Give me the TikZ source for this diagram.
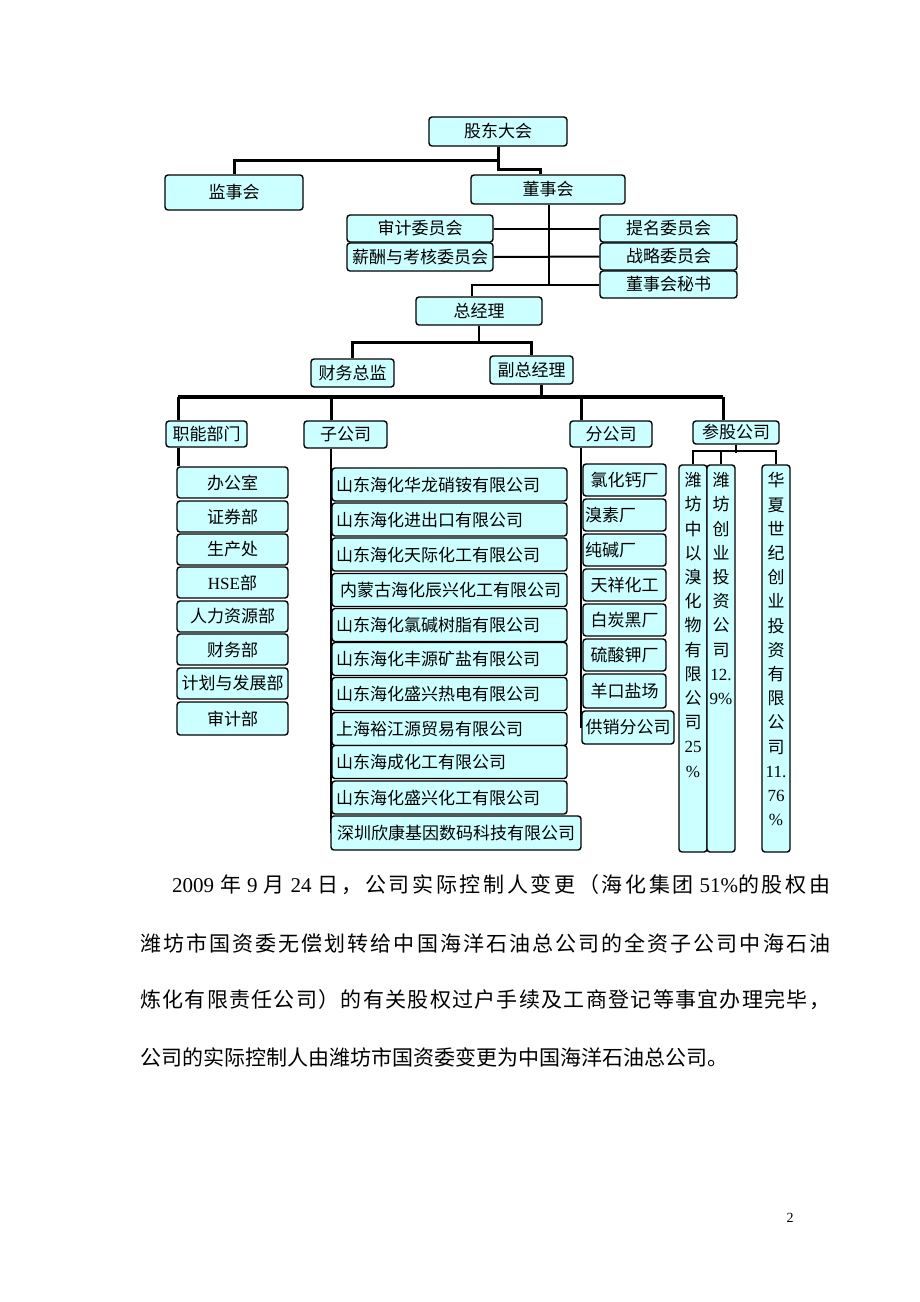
\documentclass[tikz,border=0pt]{standalone}
\usepackage{fontspec}
\setmainfont{Liberation Serif}
\newfontfamily\cjk{Noto Sans CJK SC}
\usetikzlibrary{backgrounds}
\newXeTeXintercharclass\cjkcls
\count255="3000
\loop\ifnum\count255<"3040 \XeTeXcharclass\count255=\cjkcls \advance\count255 by 1 \repeat
\count255="4E00
\loop\ifnum\count255<"A000 \XeTeXcharclass\count255=\cjkcls \advance\count255 by 1 \repeat
\count255="FF00
\loop\ifnum\count255<"FF20 \XeTeXcharclass\count255=\cjkcls \advance\count255 by 1 \repeat
\XeTeXinterchartoks\cjkcls\cjkcls={\hskip0pt plus 1pt\relax}
\newcommand\myparafont{\cjk\fontsize{21}{24}\selectfont\XeTeXinterchartokenstate=1\relax}
\definecolor{boxc}{RGB}{204,255,255}
\begin{document}
\begin{tikzpicture}[x=1pt,y=-1pt,
  bx/.style={draw=black, line width=1.4pt, rounded corners=3pt, fill=boxc, inner sep=0pt,
    font=\cjk\fontsize{17}{20}\selectfont, text=black},
  sub/.style={bx, text width=227pt, align=left, inner xsep=4pt, minimum height=33pt},
  vt/.style={anchor=north, inner sep=0pt, align=center, font=\cjk\fontsize{17}{24.2}\selectfont},
  para/.style={anchor=west, inner sep=0pt, font=\myparafont},
  ln/.style={line width=3pt},
  ml/.style={line width=2.5pt},
  tl/.style={line width=2pt},
  bus/.style={line width=4pt}]
\useasboundingbox (0,0) rectangle (920,1302);

% top levels
\node[bx, minimum width=138pt, minimum height=29pt] (gd) at (498,131.5) {股东大会};
\node[bx, minimum width=138pt, minimum height=35pt] (jsh) at (234,192.5) {监事会};
\node[bx, minimum width=154pt, minimum height=29pt] (dsh) at (548,189.5) {董事会};

\node[bx, minimum width=146pt, minimum height=27pt] (sj) at (420,228.5) {审计委员会};
\node[bx, minimum width=146pt, minimum height=28pt] (xc) at (420,257) {薪酬与考核委员会};
\node[bx, minimum width=137pt, minimum height=27pt] (tm) at (668.5,228.5) {提名委员会};
\node[bx, minimum width=137pt, minimum height=27pt] (zl) at (668.5,256.5) {战略委员会};
\node[bx, minimum width=137pt, minimum height=27pt] (ms) at (668.5,284.5) {董事会秘书};

\node[bx, minimum width=126pt, minimum height=28pt] (zjl) at (479,311) {总经理};
\node[bx, minimum width=83pt, minimum height=28pt] (cw) at (352.5,373) {财务总监};
\node[bx, minimum width=83pt, minimum height=28pt] (fz) at (531.5,370) {副总经理};

\node[bx, minimum width=81pt, minimum height=26pt] (zn) at (206.5,434) {职能部门};
\node[bx, minimum width=83pt, minimum height=27pt] (zg) at (345.5,434.5) {子公司};
\node[bx, minimum width=82pt, minimum height=26pt] (fg) at (611,434) {分公司};
\node[bx, minimum width=86pt, minimum height=23pt] (cg) at (736,432.5) {参股公司};

% functional departments
\node[bx, minimum width=111pt, minimum height=31pt] (f1) at (232.5,482.5) {办公室};
\node[bx, minimum width=111pt, minimum height=31pt] (f2) at (232.5,516.5) {证券部};
\node[bx, minimum width=111pt, minimum height=31pt] (f3) at (232.5,549.5) {生产处};
\node[bx, minimum width=111pt, minimum height=31pt] (f4) at (232.5,582.5) {{\rmfamily HSE}部};
\node[bx, minimum width=111pt, minimum height=31pt] (f5) at (232.5,616.5) {人力资源部};
\node[bx, minimum width=111pt, minimum height=31pt] (f6) at (232.5,649.5) {财务部};
\node[bx, minimum width=111pt, minimum height=31pt] (f7) at (232.5,683.5) {计划与发展部};
\node[bx, minimum width=111pt, minimum height=33pt] (f8) at (232.5,718.5) {审计部};

% subsidiaries
\node[sub] (s1) at (449.5,484.5) {山东海化华龙硝铵有限公司};
\node[sub] (s2) at (449.5,519.5) {山东海化进出口有限公司};
\node[sub] (s3) at (449.5,554.5) {山东海化天际化工有限公司};
\node[sub] (s4) at (449.5,590) {\hspace{4pt}内蒙古海化辰兴化工有限公司};
\node[sub] (s5) at (449.5,625) {山东海化氯碱树脂有限公司};
\node[sub] (s6) at (449.5,659) {山东海化丰源矿盐有限公司};
\node[sub] (s7) at (449.5,694) {山东海化盛兴热电有限公司};
\node[sub] (s8) at (449.5,729) {上海裕江源贸易有限公司};
\node[sub] (s9) at (449.5,762) {山东海成化工有限公司};
\node[sub] (s10) at (449.5,797.5) {山东海化盛兴化工有限公司};
\node[sub, text width=244pt, inner xsep=3pt, minimum height=34pt] (s11) at (456,833) {\hspace{3pt}深圳欣康基因数码科技有限公司};

% branches
\node[bx, minimum width=83pt, minimum height=32pt] (b1) at (624.5,480) {氯化钙厂};
\node[bx, minimum height=32pt, text width=79pt, align=left, inner xsep=2pt] (b2) at (624.5,515) {溴素厂};
\node[bx, minimum height=32pt, text width=79pt, align=left, inner xsep=2pt] (b3) at (624.5,550) {纯碱厂};
\node[bx, minimum width=83pt, minimum height=32pt] (b4) at (624.5,585) {天祥化工};
\node[bx, minimum width=83pt, minimum height=32pt] (b5) at (624.5,620) {白炭黑厂};
\node[bx, minimum width=83pt, minimum height=32pt] (b6) at (624.5,655) {硫酸钾厂};
\node[bx, minimum width=83pt, minimum height=34pt] (b7) at (624.5,691) {羊口盐场};
\node[bx, minimum width=92pt, minimum height=33pt] (b8) at (628,727.5) {供销分公司};

% equity holdings
\node[bx, minimum width=28pt, minimum height=387pt] (e1) at (693,658.5) {};
\node[bx, minimum width=28pt, minimum height=387pt] (e2) at (721,658.5) {};
\node[bx, minimum width=28pt, minimum height=387pt] (e3) at (776,658.5) {};
\node[vt] (e1t) at ([yshift=-8pt]e1.north) {潍\\坊\\中\\以\\溴\\化\\物\\有\\限\\公\\司\\{\rmfamily 25}\\{\rmfamily \%}};
\node[vt] (e2t) at ([yshift=-8pt]e2.north) {潍\\坊\\创\\业\\投\\资\\公\\司\\{\rmfamily 12.}\\{\rmfamily 9\%}};
\node[vt] (e3t) at ([yshift=-8pt]e3.north) {华\\夏\\世\\纪\\创\\业\\投\\资\\有\\限\\公\\司\\{\rmfamily 11.}\\{\rmfamily 76}\\{\rmfamily \%}};

% connectors
\begin{scope}[on background layer]
\fill[white] (0,0) rectangle (920,1302);
\draw[ln] (gd.south) -- ++(0,14) -| (jsh.north);
\draw[ln] (gd.south) -- ++(0,22.5) -| ([xshift=-8pt]dsh.north);
\coordinate (hub) at (549,284.5);
\draw[ml] ([xshift=1pt]dsh.south) -- (hub);
\draw[tl] (sj.east) -- (tm.west);
\draw[tl] (xc.east) -- (zl.west);
\draw[tl] (ms.west) -| ([xshift=-7pt]zjl.north);
\draw[ml] (zjl.south) -- ++(0,17) -| (cw.north);
\draw[ml] (zjl.south) -- ++(0,17) -| (fz.north);
\draw[ml] ([xshift=10pt]fz.south) -- ++(0,14);
\coordinate (c1) at (178,397);
\coordinate (c2) at (331,397);
\coordinate (c3) at (581,397);
\coordinate (c4) at (723,397);
\draw[bus] (c1) -- (c4);
\draw[ln] (c1) -- (c1 |- zn.north);
\draw[ln] (c2) -- (c2 |- zg.north);
\draw[ln] (c3) -- (c3 |- fg.north);
\draw[ln] (c4) -- (c4 |- cg.north);
\draw[ln] (c1 |- zn.south) -- (c1 |- f1.north);
\draw[ml] (c2 |- zg.south) -- (c2 |- s11.center);
\draw[ml] (c3 |- fg.south) -- (c3 |- b8.center);
\draw[tl] (cg.south) -- ++(0,8);
\draw[tl] (e1.north) -- ++(0,-13) -| (e3.north);
\draw[tl] (e2.north) -- ++(0,-13);
\end{scope}

% paragraph
\node[para] (p1) at (172,885) {\makebox[658pt][s]{{\rmfamily 2009}\hspace{6pt}年\hspace{6pt}{\rmfamily 9}\hspace{6pt}月\hspace{6pt}{\rmfamily 24}\hspace{6pt}日，公司实际控制人变更（海化集团\hspace{6pt}{\rmfamily 51\%}的股权由}};
\node[para] (p2) at (140,943) {\makebox[690pt][s]{潍坊市国资委无偿划转给中国海洋石油总公司的全资子公司中海石油}};
\node[para] (p3) at (140,1000) {\makebox[690pt][s]{炼化有限责任公司）的有关股权过户手续及工商登记等事宜办理完毕，}};
\node[para] (p4) at (140,1057) {公司的实际控制人由潍坊市国资委变更为中国海洋石油总公司。};
\node[font=\fontsize{14}{16}\selectfont, inner sep=0pt] (pg) at (790,1218) {2};
\end{tikzpicture}
\end{document}
